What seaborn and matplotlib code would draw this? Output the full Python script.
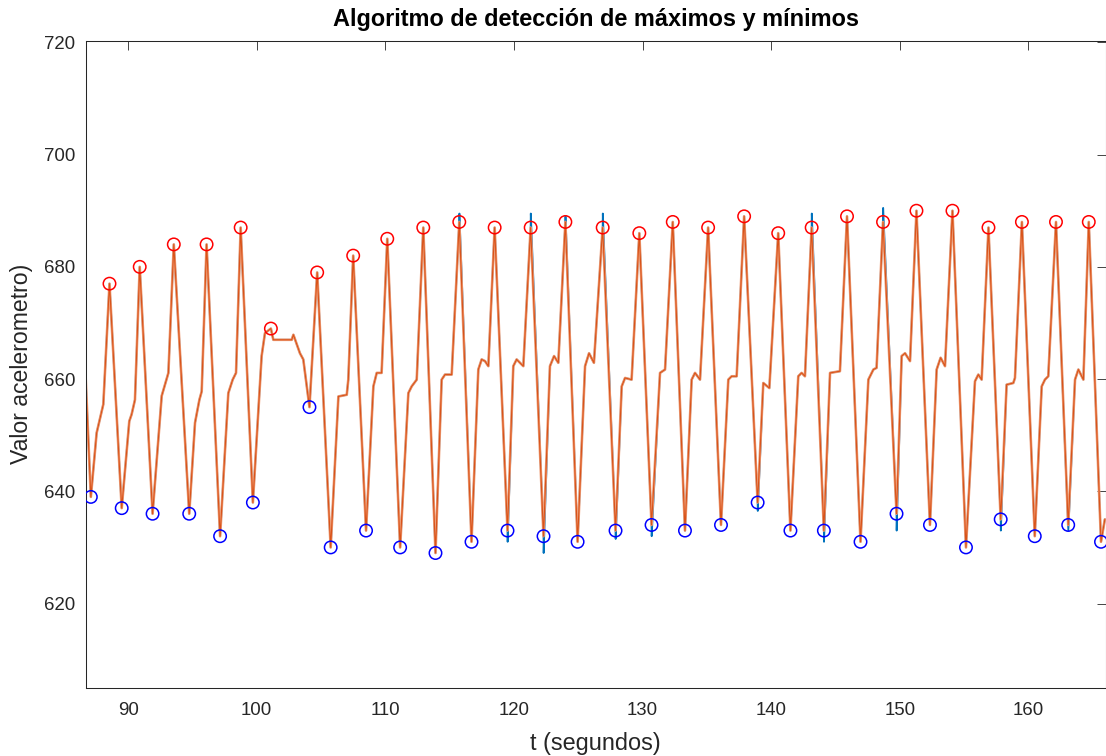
import matplotlib
matplotlib.use("Agg")
import matplotlib.pyplot as plt
import pandas as pd
import seaborn as sns

# Detected maxima (s, raw units)
max_t = [88.55, 90.9, 93.55, 96.1, 98.75, 101.1, 104.7, 107.5, 110.15, 112.95,
         115.75, 118.5, 121.3, 124.0, 126.9, 129.75, 132.35, 135.1, 137.9, 140.55,
         143.15, 145.9, 148.7, 151.3, 154.1, 156.9, 159.5, 162.15, 164.7]
max_v = [677, 680, 684, 684, 687, 669, 679, 682, 685, 687,
         688, 687, 687, 688, 687, 686, 688, 687, 689, 686,
         687, 689, 688, 690, 690, 687, 688, 688, 688]

# Detected minima
min_t = [87.1, 89.5, 91.9, 94.75, 97.15, 99.7, 104.1, 105.75, 108.5, 111.15,
         113.9, 116.7, 119.5, 122.3, 124.95, 127.9, 130.7, 133.3, 136.1, 138.95,
         141.5, 144.1, 146.95, 149.75, 152.35, 155.15, 157.85, 160.5, 163.1, 165.65]
min_v = [639, 637, 636, 636, 632, 638, 655, 630, 633, 630,
         629, 631, 633, 632, 631, 633, 634, 633, 634, 638,
         633, 633, 631, 636, 634, 630, 635, 632, 634, 631]

# Remaining samples of the filtered signal (rise, shoulder and plateau samples)
shape_t = [86.7,
           87.55, 88.07,
           90.09, 90.27, 90.53,
           92.61, 92.94, 93.13,
           95.2, 95.54, 95.72,
           97.79, 98.13, 98.39,
           100.38, 100.64,
           101.29, 102.72, 102.85, 103.36, 103.62,
           106.35, 107.0, 107.12,
           109.07, 109.33, 109.71,
           111.79, 112.05, 112.44,
           114.38, 114.64, 115.16,
           117.23, 117.49, 117.75, 118.01,
           119.95, 120.21, 120.73,
           122.8, 123.12, 123.45,
           125.53, 125.84, 126.22,
           128.38, 128.64, 129.15,
           131.36, 131.75,
           133.82, 134.08, 134.47,
           136.67, 136.93, 137.32,
           139.39, 139.86,
           142.11, 142.37, 142.63,
           144.58, 145.35,
           147.56, 147.95, 148.2,
           150.15, 150.41, 150.8,
           152.87, 153.18, 153.52,
           155.85, 156.11, 156.37,
           158.31, 158.83, 158.96,
           161.04, 161.29, 161.55,
           163.63, 163.89, 164.28,
           165.95]
shape_v = [660,
           650.4, 655.5,
           652.5, 653.7, 656.3,
           657.0, 659.6, 661.1,
           652.2, 656.3, 657.8,
           657.5, 659.9, 661.1,
           664.1, 668.2,
           667.0, 667.0, 667.9, 664.6, 663.5,
           656.9, 657.2, 659.9,
           658.7, 661.1, 661.1,
           657.5, 658.7, 659.9,
           659.9, 660.8, 660.8,
           661.7, 663.5, 663.2, 662.3,
           662.3, 663.5, 662.3,
           662.3, 664.1, 662.9,
           662.3, 664.6, 662.9,
           658.7, 660.2, 659.9,
           661.1, 661.7,
           659.9, 661.1, 659.9,
           659.9, 660.5, 660.5,
           659.3, 658.4,
           660.5, 661.1, 660.5,
           661.1, 661.4,
           659.9, 661.7, 662.0,
           664.1, 664.6, 663.2,
           661.7, 663.8, 662.3,
           659.6, 660.8, 659.9,
           659.0, 659.3, 660.2,
           658.7, 659.9, 660.5,
           659.9, 661.7, 659.9,
           635.0]

# Short spikes where the raw accelerometer reading departs from the filtered trace
spike_t = [115.76, 121.31, 124.01, 126.91, 143.16, 148.71,
           119.51, 122.31, 127.91, 130.71, 138.96, 144.11, 149.76, 157.86, 163.11]
spike_v = [689.5, 689.5, 689.0, 689.5, 689.5, 690.5,
           631.0, 629.0, 631.5, 632.0, 636.5, 631.0, 633.0, 633.0, 633.0]

title_text = "Algoritmo de detección de máximos y mínimos"
xlabel_text = "t (segundos)"
ylabel_text = "Valor acelerometro)"
x_ticks = [90, 100, 110, 120, 130, 140, 150, 160]
y_ticks = [620, 640, 660, 680, 700, 720]

filtered = (pd.DataFrame({"t": shape_t + max_t + min_t,
                          "v": shape_v + max_v + min_v})
            .sort_values("t").reset_index(drop=True))
raw = (pd.concat([filtered, pd.DataFrame({"t": spike_t, "v": spike_v})])
       .sort_values("t").reset_index(drop=True))

sns.set_theme(style="white")
plt.rcParams["font.family"] = ["Liberation Sans", "DejaVu Sans"]

ink = "#262626"
fig = plt.figure(figsize=(11.06, 7.56), dpi=100)
fig.patch.set_facecolor("white")
ax = fig.add_axes([85.7 / 1106, 1 - 687.7 / 756, (1105.5 - 85.7) / 1106, (687.7 - 40.7) / 756])
ax.set_facecolor("white")

# raw reading underneath, filtered trace (soft halo + core) on top
sns.lineplot(data=raw, x="t", y="v", sort=False, estimator=None,
             color="#0072BD", linewidth=1.3, ax=ax)
sns.lineplot(data=filtered, x="t", y="v", sort=False, estimator=None,
             color="#EE9E78", linewidth=1.9, ax=ax)
sns.lineplot(data=filtered, x="t", y="v", sort=False, estimator=None,
             color="#D95319", linewidth=0.8, ax=ax)
sns.scatterplot(x=max_t, y=max_v, marker="o", s=80, facecolor="none",
                edgecolor="#FF0000", linewidth=1.1, ax=ax, zorder=4)
sns.scatterplot(x=min_t, y=min_v, marker="o", s=80, facecolor="none",
                edgecolor="#0000FF", linewidth=1.1, ax=ax, zorder=4)

ax.set_xlim(86.7, 166.0)
ax.set_ylim(605, 720.3)
ax.set_xticks(x_ticks)
ax.set_yticks(y_ticks)
ax.tick_params(direction="in", length=6.5, width=0.6, color=ink,
               labelcolor=ink, labelsize=13.4, top=True, right=True,
               labeltop=False, labelright=False)
ax.tick_params(axis="x", pad=10)
ax.tick_params(axis="y", pad=7.5)
for side in ax.spines.values():
    side.set_visible(True)
    side.set_color(ink)
    side.set_linewidth(0.75)
ax.grid(False)

ax.set_xlabel(xlabel_text, fontsize=16.9, color=ink)
ax.set_ylabel(ylabel_text, fontsize=16.6, color=ink)
ax.xaxis.set_label_coords(0.5, -0.087)
ax.xaxis.label.set_va("center")
ax.yaxis.set_label_coords(-0.0625, 0.5)
ax.yaxis.label.set_va("center")
ax.set_title(title_text, fontsize=16.9, fontweight="bold", color="black",
             y=1.0335, va="center", pad=0)
if ax.get_legend() is not None:
    ax.get_legend().remove()

fig.savefig("out.png", dpi=100, facecolor="white")
